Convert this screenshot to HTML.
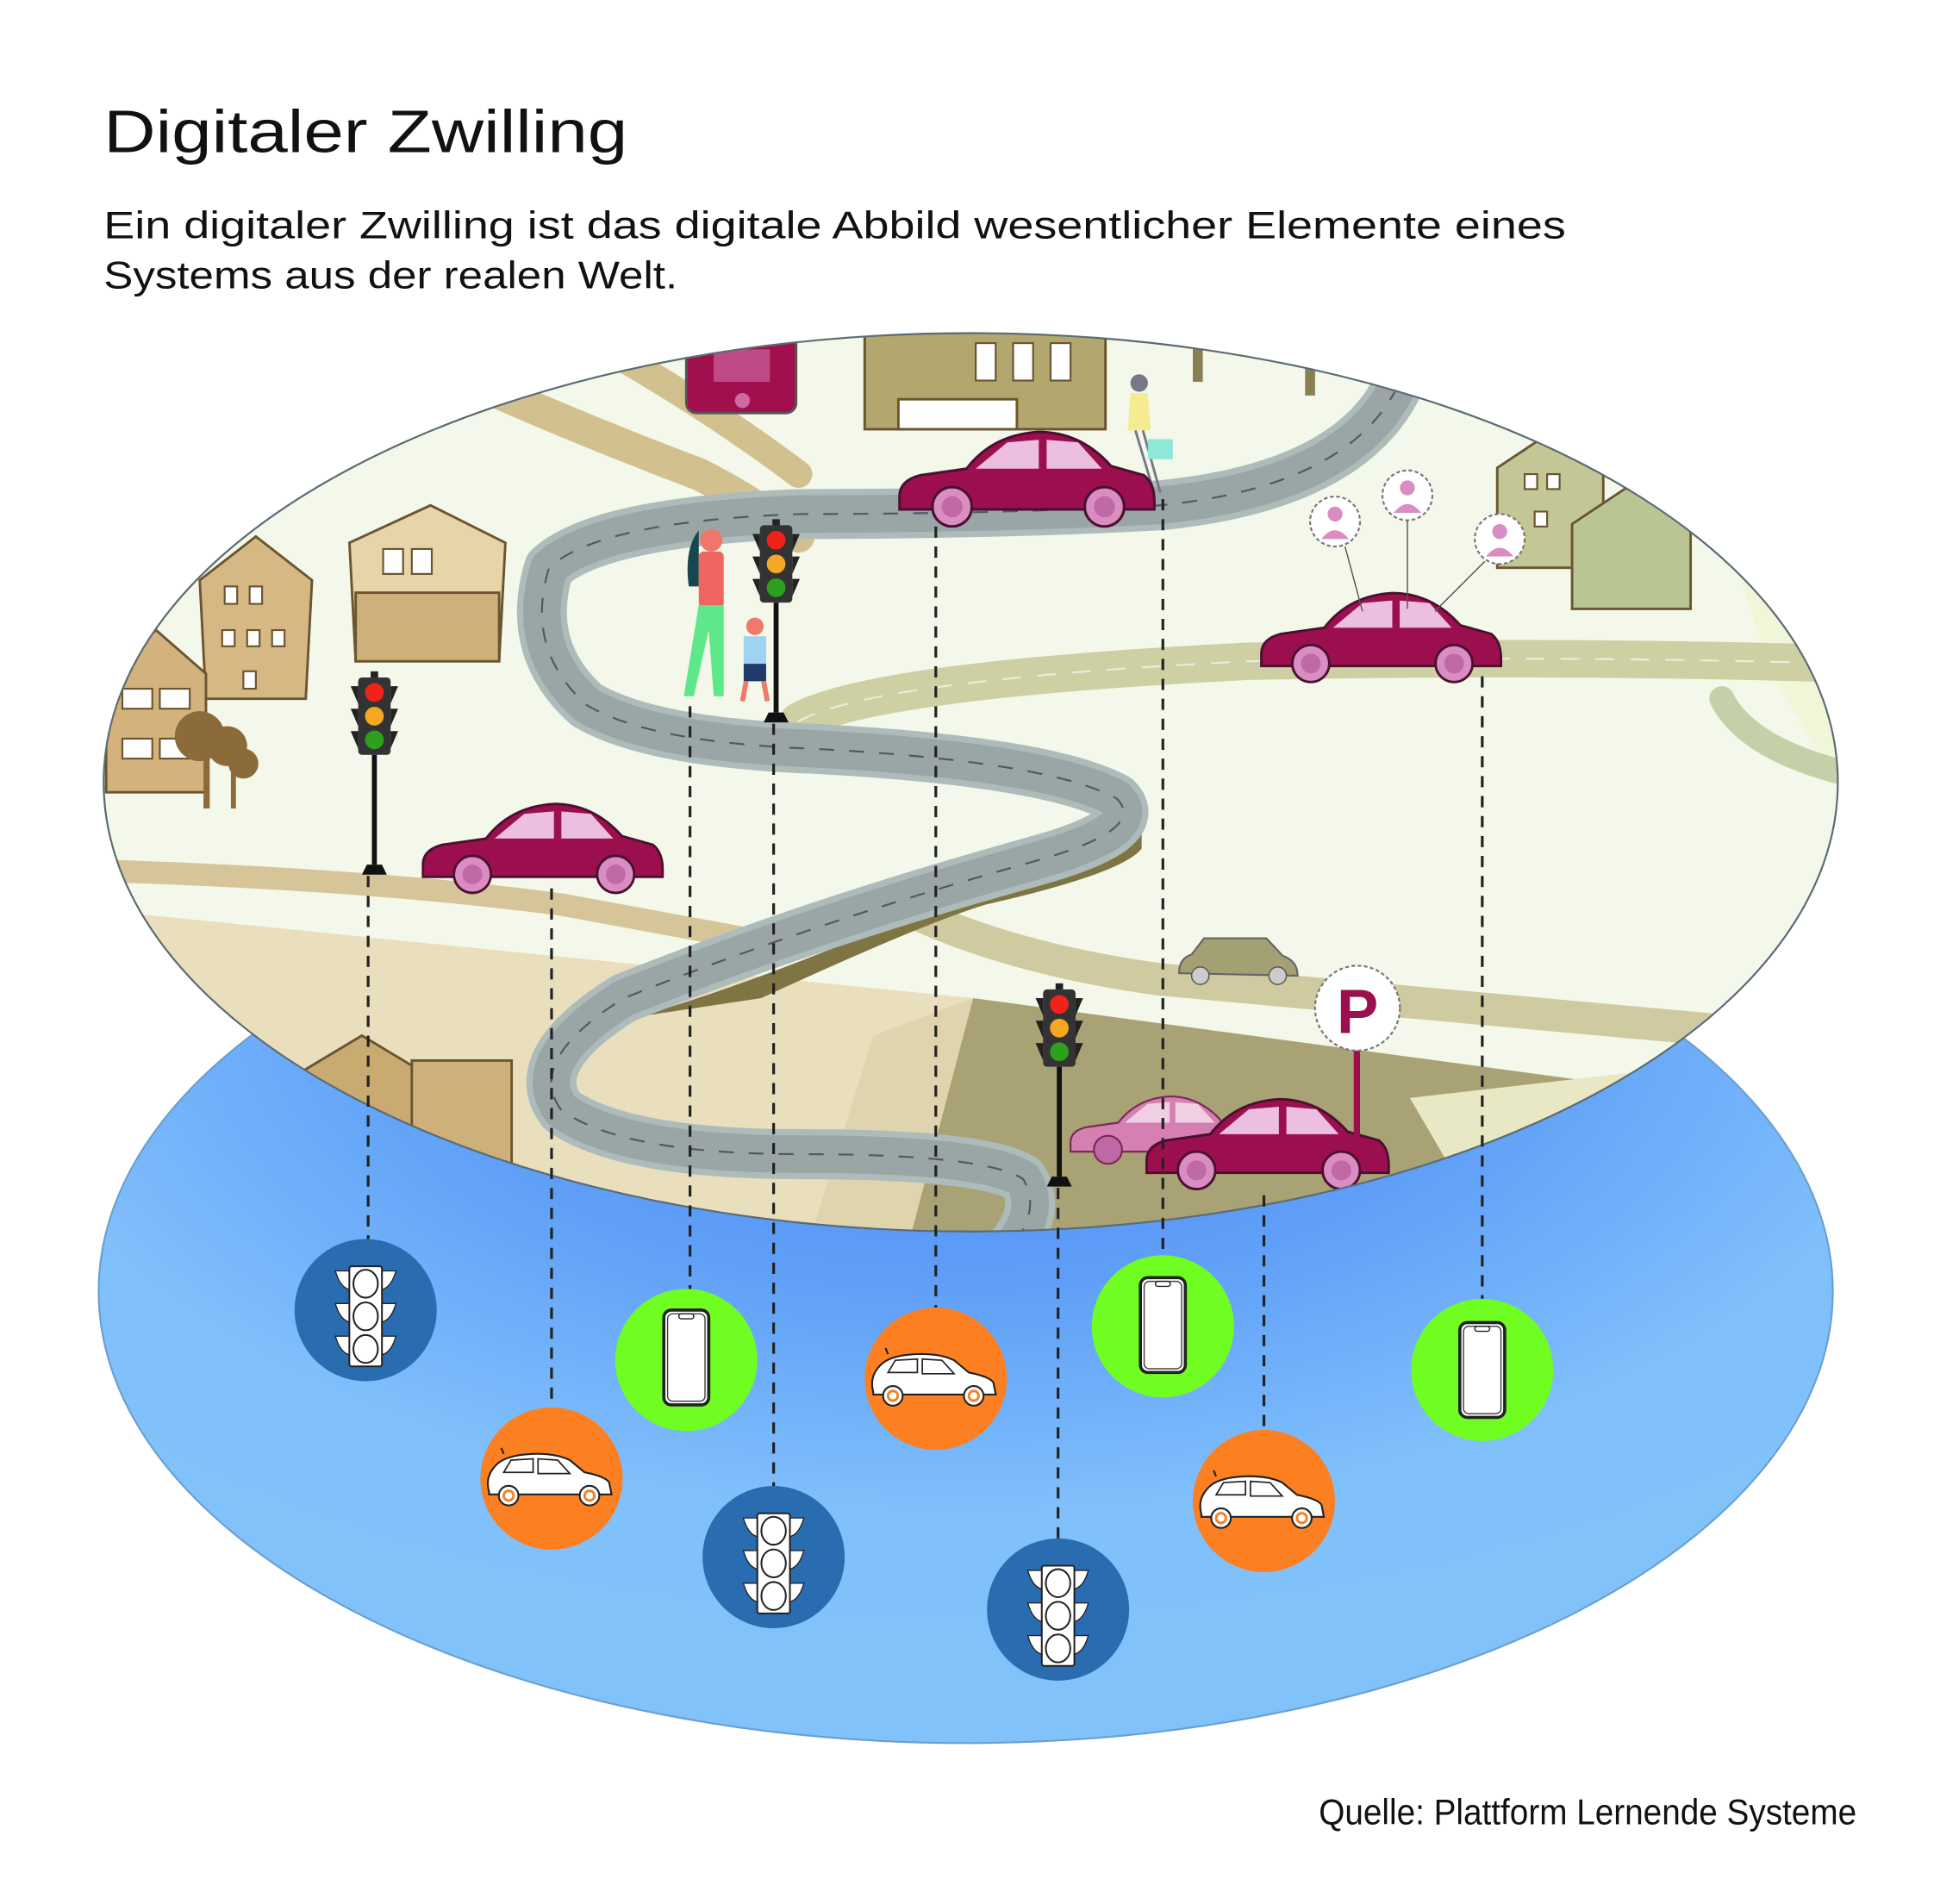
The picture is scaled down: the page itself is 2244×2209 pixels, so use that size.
<!DOCTYPE html>
<html><head><meta charset="utf-8"><style>html,body{margin:0;padding:0;background:#fff}svg{display:block}</style></head>
<body>
<svg width="2244" height="2209" viewBox="0 0 1550 1526" xmlns="http://www.w3.org/2000/svg">
<defs>
<radialGradient id="bg" cx="0.5" cy="0.18" r="0.7">
<stop offset="0" stop-color="#4a88f5"/><stop offset="0.45" stop-color="#5f9ff8"/><stop offset="0.8" stop-color="#7fbffb"/><stop offset="1" stop-color="#82c2fb"/></radialGradient>
<clipPath id="top"><ellipse cx="778" cy="627" rx="695" ry="360"/></clipPath>
<symbol id="car" viewBox="0 0 200 76">
<path d="M4,52 Q4,40 20,36 L55,31 Q75,5 110,3 Q142,3 165,29 L190,36 Q198,42 198,56 L198,62 L4,62 Z" fill="#9c0f4e" stroke="#4a1030" stroke-width="2"/>
<polygon points="62,31 86,11 110,9 110,31" fill="#ecbfe0"/><polygon points="116,9 140,11 158,31 116,31" fill="#ecbfe0"/>
<circle cx="44" cy="60" r="15" fill="#d98dc3" stroke="#4a1030" stroke-width="2"/><circle cx="44" cy="60" r="8" fill="#c06aa5"/>
<circle cx="160" cy="60" r="15" fill="#d98dc3" stroke="#4a1030" stroke-width="2"/><circle cx="160" cy="60" r="8" fill="#c06aa5"/>
</symbol>
<symbol id="carp" viewBox="0 0 200 76">
<path d="M4,52 Q4,40 20,36 L55,31 Q75,5 110,3 Q142,3 165,29 L190,36 Q198,42 198,56 L198,62 L4,62 Z" fill="#d57fb3" stroke="#7a2a55" stroke-width="2"/>
<polygon points="62,31 86,11 110,9 110,31" fill="#f0cfe5"/><polygon points="116,9 140,11 158,31 116,31" fill="#f0cfe5"/>
<circle cx="44" cy="60" r="15" fill="#c06aa5" stroke="#7a2a55" stroke-width="2"/>
<circle cx="160" cy="60" r="15" fill="#c06aa5" stroke="#7a2a55" stroke-width="2"/>
</symbol>
<symbol id="tl" viewBox="0 0 40 165">
<rect x="7" y="5" width="26" height="62" rx="3" fill="#333"/>
<path d="M7,12 L1,12 L7,26Z M33,12 L39,12 L33,26Z M7,30 L1,30 L7,44Z M33,30 L39,30 L33,44Z M7,48 L1,48 L7,62Z M33,48 L39,48 L33,62Z" fill="#222"/>
<circle cx="20" cy="17" r="7.5" fill="#f0231b"/><circle cx="20" cy="36" r="7.5" fill="#f5a623"/><circle cx="20" cy="55" r="7.5" fill="#2da01d"/>
<rect x="18" y="67" width="4" height="88" fill="#111"/><path d="M10,163 L14,155 L26,155 L30,163Z" fill="#111"/><rect x="17" y="0" width="6" height="5" fill="#222"/>
</symbol>
<symbol id="itl" viewBox="0 0 60 90">
<path d="M4,6 L16,6 L16,22 Q8,20 4,6Z M56,6 L44,6 L44,22 Q52,20 56,6Z M4,34 L16,34 L16,50 Q8,48 4,34Z M56,34 L44,34 L44,50 Q52,48 56,34Z M4,62 L16,62 L16,78 Q8,76 4,62Z M56,62 L44,62 L44,78 Q52,76 56,62Z" fill="#fff" stroke="#222" stroke-width="1"/>
<rect x="16" y="2" width="28" height="86" rx="2" fill="#fff" stroke="#222" stroke-width="1.5"/>
<ellipse cx="30" cy="17" rx="10.5" ry="12" fill="#fff" stroke="#222" stroke-width="1.5"/><ellipse cx="30" cy="45" rx="10.5" ry="12" fill="#fff" stroke="#222" stroke-width="1.5"/><ellipse cx="30" cy="73" rx="10.5" ry="12" fill="#fff" stroke="#222" stroke-width="1.5"/>
</symbol>
<symbol id="icar" viewBox="0 0 110 50">
<path d="M6,38 Q2,24 14,14 Q22,8 40,7 Q60,6 72,12 L84,22 Q100,25 104,30 L106,40 L6,40Z" fill="#fff" stroke="#222" stroke-width="1.5"/>
<path d="M18,22 L24,12 L42,11 L42,22Z M46,11 L62,12 L72,23 L46,23Z" fill="#fff" stroke="#222" stroke-width="1.2"/>
<line x1="18" y1="7" x2="16" y2="2" stroke="#222" stroke-width="1.5"/>
<circle cx="22" cy="41" r="8" fill="#fff" stroke="#222" stroke-width="1.5"/><circle cx="22" cy="41" r="4" fill="none" stroke="#f77f22" stroke-width="2"/>
<circle cx="88" cy="41" r="8" fill="#fff" stroke="#222" stroke-width="1.5"/><circle cx="88" cy="41" r="4" fill="none" stroke="#f77f22" stroke-width="2"/>
</symbol>
<symbol id="iph" viewBox="0 0 40 80">
<rect x="2" y="2" width="36" height="76" rx="6" fill="#fff" stroke="#222" stroke-width="2.5"/>
<rect x="5" y="5" width="30" height="70" rx="4" fill="#fff" stroke="#444" stroke-width="1"/>
<rect x="14" y="5" width="12" height="4" rx="2" fill="#fff" stroke="#222" stroke-width="1"/>
</symbol>
</defs>

<text x="83" y="122" font-family="Liberation Sans, sans-serif" font-size="48" fill="#111" textLength="420" lengthAdjust="spacingAndGlyphs">Digitaler Zwilling</text>
<text x="83" y="191" font-family="Liberation Sans, sans-serif" font-size="31" fill="#111" textLength="1172" lengthAdjust="spacingAndGlyphs">Ein digitaler Zwilling ist das digitale Abbild wesentlicher Elemente eines</text>
<text x="83" y="231" font-family="Liberation Sans, sans-serif" font-size="31" fill="#111" textLength="460" lengthAdjust="spacingAndGlyphs">Systems aus der realen Welt.</text>

<ellipse cx="774" cy="1035" rx="695" ry="362" fill="url(#bg)" stroke="#6aa0d0" stroke-width="1.5"/>

<g clip-path="url(#top)">
<rect x="0" y="250" width="1550" height="760" fill="#f3f8ea"/>
<polygon points="1300,260 1480,260 1480,640 1420,540 1380,420" fill="#f1f6d8"/>
<polygon points="85,730 780,800 700,1000 85,1000" fill="#eadfbd"/>
<polygon points="780,800 1300,870 1480,840 1480,1000 700,1000" fill="#a9a274"/>
<polygon points="1130,880 1480,840 1480,1000 1200,1000" fill="#e8e8c5"/>
<polygon points="700,830 780,800 730,990 650,990" fill="#e0d4ae"/>
<g fill="none" stroke-linecap="round">
<path d="M400,315 Q480,350 560,380 Q600,400 640,430" stroke="#d2c08f" stroke-width="26"/>
<path d="M460,265 Q560,320 640,380" stroke="#d2c08f" stroke-width="22"/>
<path d="M85,698 Q300,705 450,725 Q560,745 640,760" stroke="#d7c59a" stroke-width="18"/>
<path d="M740,735 Q820,770 930,785 Q1150,805 1480,835" stroke="#cfcaa0" stroke-width="26"/>
<path d="M640,578 Q700,545 1000,530 Q1250,525 1480,532" stroke="#cfcfa4" stroke-width="30"/>
<path d="M1380,560 Q1400,600 1480,620" stroke="#c5d0a8" stroke-width="20"/>
<path d="M640,578 Q700,545 1000,530 Q1250,525 1480,532" stroke="#fff" stroke-width="1.5" stroke-dasharray="14 14" opacity="0.6"/>
</g>
<g stroke="#6b5530" stroke-width="2">
<polygon points="160,465 205,430 250,465 245,560 165,560" fill="#d6b884"/>
<polygon points="280,435 345,405 405,435 400,530 285,530" fill="#e7d4a8"/>
<rect x="285" y="475" width="115" height="55" fill="#cdb07a"/>
<polygon points="85,540 125,505 165,540 165,635 85,635" fill="#d4b27e"/>
<polygon points="240,860 290,830 340,860 340,990 240,990" fill="#c9ab72"/>
<rect x="330" y="850" width="80" height="140" fill="#cdb07a"/>
<rect x="693" y="262" width="193" height="82" fill="#b2a76e"/>
<rect x="720" y="320" width="95" height="24" fill="#fff"/>
<polygon points="1200,375 1245,345 1285,375 1285,455 1200,455" fill="#c3c795"/>
<polygon points="1260,420 1305,390 1355,420 1355,488 1260,488" fill="#b9c693"/>
</g>
<g fill="#fff" stroke="#6b5530" stroke-width="1.5">
<rect x="180" y="470" width="10" height="14"/><rect x="200" y="470" width="10" height="14"/><rect x="178" y="505" width="10" height="13"/><rect x="198" y="505" width="10" height="13"/><rect x="218" y="505" width="10" height="13"/><rect x="195" y="538" width="10" height="14"/>
<rect x="307" y="440" width="16" height="20"/><rect x="330" y="440" width="16" height="20"/>
<rect x="98" y="552" width="24" height="16"/><rect x="128" y="552" width="24" height="16"/><rect x="98" y="592" width="24" height="16"/><rect x="128" y="592" width="24" height="16"/>
<rect x="782" y="275" width="16" height="30"/><rect x="812" y="275" width="16" height="30"/><rect x="842" y="275" width="16" height="30"/>
<rect x="1222" y="380" width="10" height="12"/><rect x="1240" y="380" width="10" height="12"/><rect x="1230" y="410" width="10" height="12"/>
</g>
<g fill="#8b6b3a"><circle cx="160" cy="590" r="20"/><circle cx="182" cy="598" r="16"/><circle cx="195" cy="612" r="12"/><rect x="163" y="600" width="5" height="48"/><rect x="185" y="610" width="4" height="38"/></g>
<rect x="956" y="262" width="8" height="44" fill="#8a7f50"/><rect x="1046" y="275" width="8" height="42" fill="#8a7f50"/>
<rect x="550" y="265" width="88" height="66" rx="8" fill="#a0104f" stroke="#555" stroke-width="2"/><rect x="572" y="280" width="45" height="26" fill="#c04a85"/><circle cx="595" cy="321" r="6" fill="#d06aa0"/>
<path d="M510,815 Q600,790 740,730 L915,655 L915,680 Q900,700 790,725 Q740,740 610,800 Z" fill="#7e7543"/>
<path d="M1120,310 Q1080,390 930,405 Q800,412 640,412 Q480,418 440,455 Q420,520 470,565 Q520,595 650,600 Q840,610 895,640 Q920,665 830,690 Q650,740 500,800 Q420,850 450,890 Q500,925 640,925 Q790,925 820,945 Q835,970 810,1000" fill="none" stroke="#aebbbb" stroke-width="40" stroke-linecap="round" stroke-linejoin="round"/>
<path d="M1120,310 Q1080,390 930,405 Q800,412 640,412 Q480,418 440,455 Q420,520 470,565 Q520,595 650,600 Q840,610 895,640 Q920,665 830,690 Q650,740 500,800 Q420,850 450,890 Q500,925 640,925 Q790,925 820,945 Q835,970 810,1000" fill="none" stroke="#9aa5a6" stroke-width="30" stroke-linecap="round" stroke-linejoin="round"/>
<path d="M1120,310 Q1080,390 930,405 Q800,412 640,412 Q480,418 440,455 Q420,520 470,565 Q520,595 650,600 Q840,610 895,640 Q920,665 830,690 Q650,740 500,800 Q420,850 450,890 Q500,925 640,925 Q790,925 820,945 Q835,970 810,1000" fill="none" stroke="#556" stroke-width="1.5" stroke-dasharray="12 12"/>
<g>
<path d="M560,425 Q548,440 552,470 L560,470 Z" fill="#17464f"/><circle cx="570" cy="433" r="9" fill="#f0766a"/>
<rect x="560" y="442" width="20" height="45" rx="4" fill="#f06560"/>
<path d="M560,485 L548,558 L556,558 L568,505 L572,558 L580,558 L580,485Z" fill="#5ee88a"/>
<circle cx="605" cy="502" r="7" fill="#f07a6a"/><rect x="596" y="510" width="18" height="22" fill="#9fd3f2"/><rect x="596" y="532" width="18" height="14" fill="#1f3a6b"/>
<path d="M598,546 L595,562 M612,546 L615,562" stroke="#f07a6a" stroke-width="4"/>
<circle cx="913" cy="307" r="7" fill="#778"/><path d="M906,315 L920,315 L922,345 L904,345Z" fill="#f5eb90"/><path d="M910,345 L925,395 M916,345 L930,395" stroke="#778" stroke-width="2"/><rect x="920" y="352" width="20" height="16" fill="#8de8d6"/>
</g>
<use href="#car" x="335" y="641" width="198" height="76"/>
<use href="#car" x="714" y="343" width="216" height="80"/>
<use href="#car" x="1007" y="472" width="198" height="76"/>
<use href="#carp" x="855" y="868" width="150" height="74"/>
<use href="#car" x="915" y="878" width="200" height="76"/>
<path d="M945,780 Q945,768 955,765 L965,752 L1015,752 L1028,766 Q1040,770 1040,782 Z" fill="#a3a074" stroke="#666" stroke-width="1.5"/><circle cx="962" cy="782" r="7" fill="#ccc" stroke="#555"/><circle cx="1024" cy="782" r="7" fill="#ccc" stroke="#555"/>
<rect x="1085" y="838" width="5" height="75" fill="#9c0f4e"/>
<circle cx="1088" cy="808" r="34" fill="#fff" stroke="#777" stroke-width="1.5" stroke-dasharray="3 2"/>
<text x="1088" y="828" text-anchor="middle" font-family="Liberation Sans, sans-serif" font-weight="bold" font-size="50" fill="#9c0f4e">P</text>
<g fill="#fff" stroke="#777" stroke-width="1.5" stroke-dasharray="3 2">
<circle cx="1070" cy="418" r="20"/><circle cx="1128" cy="397" r="20"/><circle cx="1202" cy="432" r="20"/></g>
<g fill="#d98dc3"><circle cx="1070" cy="412" r="6"/><path d="M1059,432 Q1070,418 1081,432Z"/><circle cx="1128" cy="391" r="6"/><path d="M1117,411 Q1128,397 1139,411Z"/><circle cx="1202" cy="426" r="6"/><path d="M1191,446 Q1202,432 1213,446Z"/></g>
<g stroke="#555" stroke-width="1"><line x1="1078" y1="438" x2="1092" y2="490"/><line x1="1128" y1="417" x2="1128" y2="488"/><line x1="1190" y1="450" x2="1150" y2="490"/></g>
<use href="#tl" x="280" y="538" width="40" height="165"/>
<use href="#tl" x="602" y="416" width="40" height="165"/>
<use href="#tl" x="829" y="788" width="40" height="165"/>
</g>
<ellipse cx="778" cy="627" rx="695" ry="360" fill="none" stroke="#5b6b73" stroke-width="1.5"/>

<g stroke="#222" stroke-width="2.2" stroke-dasharray="9 7">
<line x1="295" y1="702" x2="295" y2="993"/>
<line x1="442" y1="712" x2="442" y2="1128"/>
<line x1="553" y1="566" x2="553" y2="1033"/>
<line x1="620" y1="580" x2="620" y2="1191"/>
<line x1="750" y1="422" x2="750" y2="1048"/>
<line x1="848" y1="952" x2="848" y2="1233"/>
<line x1="932" y1="400" x2="932" y2="1006"/>
<line x1="1013" y1="958" x2="1013" y2="1146"/>
<line x1="1188" y1="542" x2="1188" y2="1041"/>
</g>

<circle cx="293" cy="1050" r="57" fill="#2a6cb0"/><use href="#itl" x="265" y="1013" width="56" height="84"/>
<circle cx="442" cy="1185" r="57" fill="#fc7f22"/><use href="#icar" x="386" y="1158" width="108" height="50"/>
<circle cx="550" cy="1090" r="57" fill="#70fd22"/><use href="#iph" x="530" y="1048" width="40" height="80"/>
<circle cx="620" cy="1248" r="57" fill="#2a6cb0"/><use href="#itl" x="592" y="1211" width="56" height="84"/>
<circle cx="750" cy="1105" r="57" fill="#fc7f22"/><use href="#icar" x="694" y="1078" width="108" height="50"/>
<circle cx="848" cy="1290" r="57" fill="#2a6cb0"/><use href="#itl" x="820" y="1253" width="56" height="84"/>
<circle cx="932" cy="1063" r="57" fill="#70fd22"/><use href="#iph" x="912" y="1022" width="40" height="80"/>
<circle cx="1013" cy="1203" r="57" fill="#fc7f22"/><use href="#icar" x="957" y="1176" width="108" height="50"/>
<circle cx="1188" cy="1098" r="57" fill="#70fd22"/><use href="#iph" x="1168" y="1058" width="40" height="80"/>

<text x="1057" y="1462" font-family="Liberation Sans Narrow, Liberation Sans, sans-serif" font-size="29" fill="#111" textLength="431" lengthAdjust="spacingAndGlyphs">Quelle: Plattform Lernende Systeme</text>
</svg>
</body></html>
